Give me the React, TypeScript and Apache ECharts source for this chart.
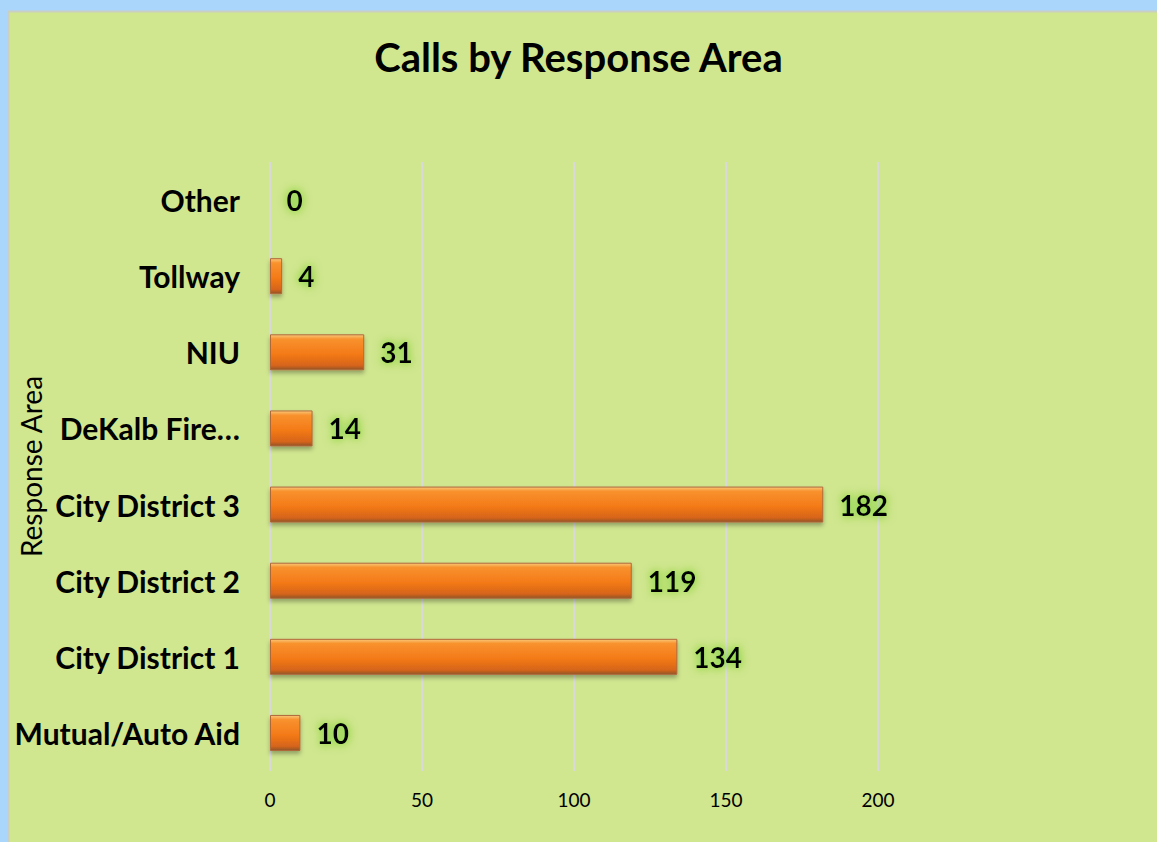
import React, { useEffect, useRef } from "react";
import * as echarts from "echarts";

const categories = ["Mutual/Auto Aid", "City District 1", "City District 2", "City District 3", "DeKalb Fire…", "NIU", "Tollway", "Other"];
const values = [10, 134, 119, 182, 14, 31, 4, 0];
const xTicks = [0, 50, 100, 150, 200];

export default function App() {
  const ref = useRef<HTMLDivElement>(null);
  useEffect(() => {
    const chart = echarts.init(ref.current!, undefined, { renderer: "svg" });
    const font = "Lato, Calibri, 'Liberation Sans', sans-serif";
    chart.setOption({
      animation: false,
      backgroundColor: "#aad6fb",
      graphic: [
        {
          type: "rect",
          shape: { x: 8.5, y: 11.5, width: 1160, height: 840 },
          style: { fill: "#d0e68f", stroke: "#c9cfc4", lineWidth: 2 },
          z: -10,
        },
      ],
      title: {
        text: "Calls by Response Area",
        left: "center",
        top: 37,
        textStyle: { fontFamily: font, fontWeight: "bold", fontSize: 40, color: "#000" },
        padding: 0,
      },
      grid: { left: 270, right: 279, top: 162, bottom: 71, containLabel: false, outerBoundsMode: "none" },
      xAxis: {
        type: "value",
        min: xTicks[0],
        max: xTicks[xTicks.length - 1],
        interval: 50,
        axisLine: { show: false },
        axisTick: { show: false },
        axisLabel: { fontFamily: font, fontSize: 19, color: "#000", margin: 19 },
        splitLine: { show: true, lineStyle: { color: "#d9d9d9", width: 2 } },
      },
      yAxis: {
        type: "category",
        data: categories,
        name: "Response Area",
        nameLocation: "middle",
        nameGap: 225,
        nameMoveOverlap: false,
        nameTextStyle: { fontFamily: font, fontSize: 28, color: "#000" },
        axisLine: { show: false },
        axisTick: { show: false },
        axisLabel: { fontFamily: font, fontSize: 30, fontWeight: "bold", color: "#000", margin: 30 },
      },
      series: [
        {
          type: "bar",
          data: values,
          barWidth: 36,
          itemStyle: {
            color: new echarts.graphic.LinearGradient(0, 0, 0, 1, [
              { offset: 0, color: "#fac878" },
              { offset: 0.12, color: "#f8922e" },
              { offset: 0.55, color: "#f47a18" },
              { offset: 0.88, color: "#d6641a" },
              { offset: 1, color: "#8f5428" },
            ]),
            borderColor: "#b0683a",
            borderWidth: 1,
            shadowColor: "rgba(0,0,0,0.3)",
            shadowBlur: 4,
            shadowOffsetY: 3,
          },
          label: {
            show: true,
            position: "right",
            distance: 16,
            fontFamily: font,
            fontSize: 28,
            fontWeight: "bold",
            color: "#000",
            textShadowColor: "#5ec814",
            textShadowBlur: 10,
          },
        },
      ],
    });
    return () => chart.dispose();
  }, []);
  return <div ref={ref} style={{ position: "fixed", left: 0, top: 0, width: 1157, height: 842 }} />;
}
